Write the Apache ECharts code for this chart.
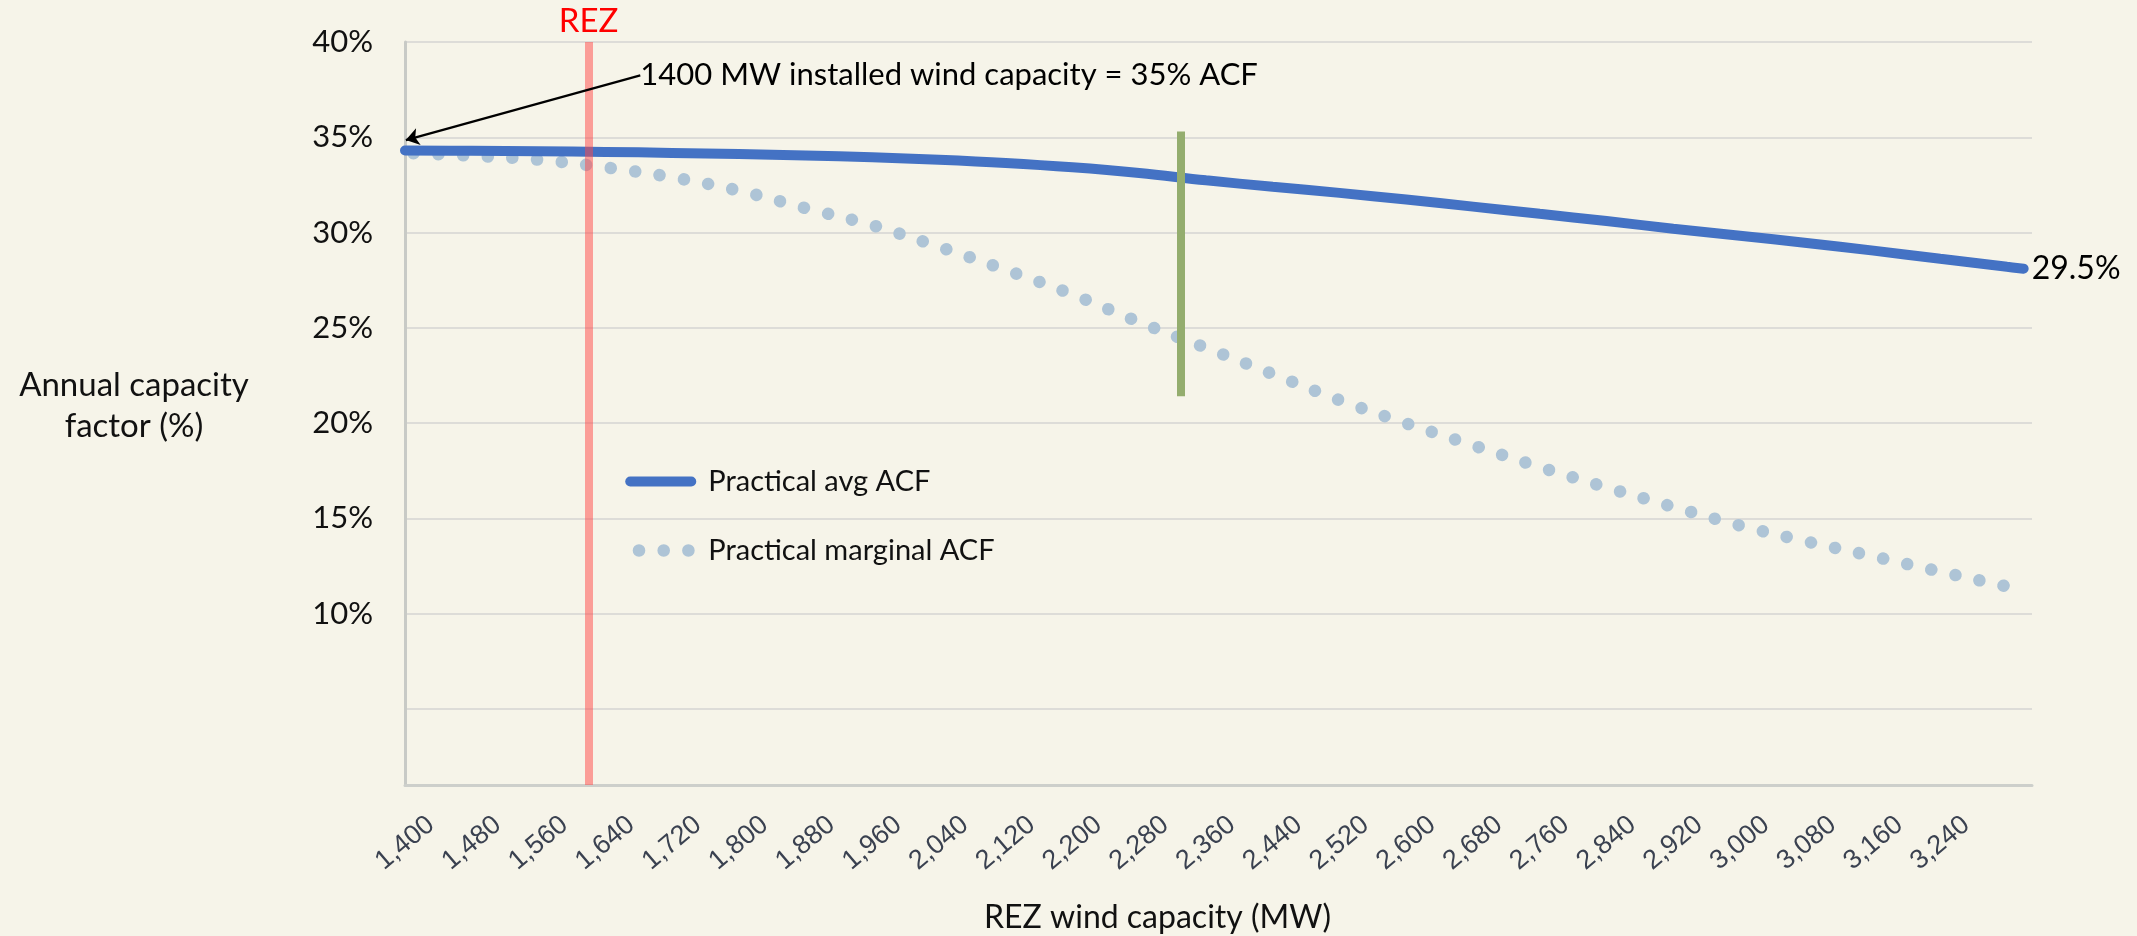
<!DOCTYPE html>
<html>
<head>
<meta charset="utf-8">
<title>REZ wind capacity vs annual capacity factor</title>
<script src="https://cdn.jsdelivr.net/npm/echarts@6/dist/echarts.min.js"></script>
<style>
  html, body { margin: 0; padding: 0; background: #f6f4e9; }
  #chart { width: 2137px; height: 936px; }
</style>
</head>
<body>
<div id="chart"></div>
<script>
// REZ wind capacity (MW)
const capacity = [
  1400, 1480, 1560, 1640, 1720, 1800, 1880, 1960, 2040, 2120, 2200, 2280, 2360,
  2440, 2520, 2600, 2680, 2760, 2840, 2920, 3000, 3080, 3160, 3240, 3320, 3340,
];
// practical avg ACF (%)
const avgAcf = [
  34.3, 34.29, 34.27, 34.23, 34.18, 34.12, 34.04, 33.95, 33.82, 33.65, 33.42, 33.12, 32.74,
  32.4, 32.08, 31.73, 31.36, 30.98, 30.6, 30.2, 29.83, 29.45, 29.05, 28.62, 28.2, 28.1,
];
// practical marginal ACF (%)
const marginalAcf = [
  34.18, 34.03, 33.82, 33.42, 32.9, 32.2, 31.28, 30.38, 29.25, 28.04, 26.75, 25.3, 23.95,
  22.57, 21.2, 19.98, 18.83, 17.69, 16.62, 15.6, 14.62, 13.78, 13.0, 12.2, 11.42, 11.22,
];
const xTickLabels = [
  1400, 1480, 1560, 1640, 1720, 1800, 1880, 1960, 2040, 2120, 2200, 2280,
  2360, 2440, 2520, 2600, 2680, 2760, 2840, 2920, 3000, 3080, 3160, 3240,
];
const yTickLabels = [10, 15, 20, 25, 30, 35, 40];

const seriesNames = ["Practical avg ACF", "Practical marginal ACF"];
const yTitle = "Annual capacity\nfactor (%)";
const xTitle = "REZ wind capacity (MW)";
const rezCapacity = 1620;
const checkCapacity = 2330;
const checkRange = [35.3, 21.4];
const annotationText = "1400 MW installed wind capacity = 35% ACF";
const annotationFrom = [1682, 38.25];
const annotationTo = [1401, 34.85];
const endLabelText = "29.5%";

const xMin = 1400;
const xMax = 3350;
const yMin = 1;
const yMax = 40;

const FONT = "Lato";

window.onload = () => {
  const chart = echarts.init(document.getElementById("chart"), null, {
    renderer: "canvas",
  });

  const avgData = capacity.map((c, i) => [c, avgAcf[i]]);
  const marginalData = capacity.map((c, i) => [c, marginalAcf[i]]);

  chart.setOption({
    animation: false,
    backgroundColor: "#f6f4e9",
    grid: {
      left: 405,
      right: 105,
      top: 42,
      bottom: 151,
      containLabel: false,
      outerBoundsMode: "none",
    },
    // y axis title sits off to the left in two centred lines
    graphic: [
      {
        type: "text",
        x: 134,
        y: 406,
        silent: true,
        style: {
          text: yTitle,
          fontFamily: FONT,
          fontSize: 33,
          lineHeight: 41,
          fill: "#111",
          align: "center",
          verticalAlign: "middle",
        },
      },
    ],
    legend: {
      left: 624,
      top: 467,
      orient: "vertical",
      padding: 0,
      itemWidth: 61,
      itemHeight: 30,
      itemGap: 40,
      selectedMode: false,
      data: seriesNames,
      itemStyle: { opacity: 0 },
      lineStyle: { width: "inherit", type: "inherit", cap: "inherit" },
      textStyle: {
        fontFamily: FONT,
        fontSize: 29,
        color: "#111",
        padding: [0, 0, 0, 12],
      },
    },
    xAxis: {
      type: "value",
      min: xMin,
      max: xMax,
      interval: 80,
      name: xTitle,
      nameLocation: "middle",
      nameGap: 133,
      nameTextStyle: {
        fontFamily: FONT,
        fontSize: 32,
        color: "#111",
        verticalAlign: "middle",
        padding: [0, 122, 0, 0],
      },
      axisLine: { show: true, lineStyle: { color: "#cdcfcb", width: 3 } },
      axisTick: { show: false },
      splitLine: { show: false },
      axisLabel: {
        rotate: 40,
        align: "center",
        verticalAlign: "middle",
        margin: 58,
        fontFamily: "Liberation Sans",
        fontSize: 27,
        color: "#3a4150",
        formatter: (v) =>
          xTickLabels.includes(v) ? v.toLocaleString("en-US") : "",
      },
    },
    yAxis: {
      type: "value",
      min: yMin,
      max: yMax,
      splitNumber: 8,
      axisLine: { show: true, lineStyle: { color: "#c8cac6", width: 3 } },
      axisTick: { show: false },
      splitLine: { show: true, lineStyle: { color: "#dddcd8", width: 2 } },
      axisLabel: {
        margin: 32,
        fontFamily: FONT,
        fontSize: 31,
        color: "#111",
        formatter: (v) => (yTickLabels.includes(v) ? v + "%" : ""),
      },
    },
    series: [
      {
        name: seriesNames[1],
        type: "line",
        data: marginalData,
        smooth: 0.4,
        symbol: "none",
        silent: true,
        color: "#aec4d6",
        lineStyle: {
          color: "#aec4d6",
          width: 12.5,
          type: [0.1, 24.6],
          cap: "round",
          dashOffset: 16,
        },
        z: 2,
      },
      {
        name: seriesNames[0],
        type: "line",
        data: avgData,
        smooth: 0.4,
        symbol: "none",
        silent: true,
        color: "#4472c4",
        lineStyle: { color: "#4472c4", width: 10, cap: "round" },
        endLabel: {
          show: true,
          formatter: () => endLabelText,
          distance: 8,
          fontFamily: FONT,
          fontSize: 32,
          color: "#000",
        },
        markLine: {
          silent: true,
          symbol: ["none", "none"],
          label: { show: false },
          data: [
            [
              {
                coord: [rezCapacity, yMin],
                lineStyle: { color: "rgba(255,70,70,0.5)", width: 8, type: "solid" },
                label: {
                  show: true,
                  position: "end",
                  formatter: "REZ",
                  distance: 4,
                  fontFamily: FONT,
                  fontSize: 33,
                  color: "#ff0000",
                },
              },
              { coord: [rezCapacity, yMax] },
            ],
            [
              {
                coord: [checkCapacity, checkRange[0]],
                lineStyle: { color: "#94ad6e", width: 8, type: "solid" },
              },
              { coord: [checkCapacity, checkRange[1]] },
            ],
            [
              {
                coord: annotationFrom,
                symbol: "none",
                lineStyle: { color: "#000", width: 2.2, type: "solid" },
              },
              { coord: annotationTo, symbol: "arrow", symbolSize: 13 },
            ],
          ],
        },
        markPoint: {
          silent: true,
          symbol: "circle",
          symbolSize: 0,
          data: [
            {
              coord: annotationFrom,
              label: {
                show: true,
                position: "right",
                distance: 0,
                formatter: annotationText,
                fontFamily: FONT,
                fontSize: 31,
                color: "#000",
              },
            },
          ],
        },
        z: 3,
      },
    ],
  });
};
</script>
</body>
</html>
